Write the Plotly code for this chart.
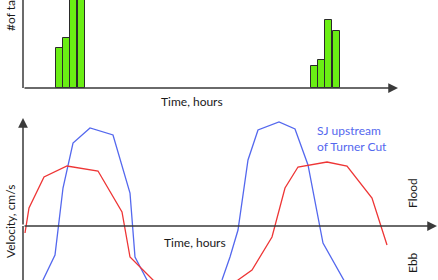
import plotly.graph_objects as go

W, H = 438, 280
PX0, PXH = 23.0, 15.0  # pixel of time origin, pixels per hour

def hx(px):
    return (px - PX0) / PXH

# ---- data (top: tag counts; bottom: velocities) ----
bar_hours_ebb1 = [2.45, 2.92, 3.39, 3.87]
tags_ebb1 = [10.0, 12.5, 28.0, 27.0]
bar_hours_ebb2 = [19.43, 19.9, 20.38, 20.87]
tags_ebb2 = [5.5, 7.0, 17.0, 14.2]
bar_width = 0.46

blue_hours = [hx(p) for p in [35, 43, 55, 63, 73, 90, 113, 130, 135, 147, 165, 205, 222, 230, 238, 248, 258, 279, 295, 308, 323, 343, 355]]
blue_vel = [226 - p for p in [310, 280, 255, 188, 143, 128, 135, 193, 257, 280, 305, 305, 280, 257, 230, 160, 130, 122, 129, 165, 243, 280, 300]]

red_hours = [hx(p) for p in [25, 29, 44, 67, 98, 122, 130, 153, 195, 238, 252, 272, 285, 298, 327, 347, 372, 387]]
red_vel = [226 - p for p in [233, 208, 177, 166, 171, 212, 257, 280, 300, 280, 270, 237, 188, 167, 162, 166, 198, 245]]

xr = [hx(0), hx(W)]
top_range = [0, 22]          # 4 px per tag, baseline at px 88
bot_range = [226 - 280, 226 - 110]

BLUE = "#5468ee"
RED = "#ee3535"
GREEN = "#6aee14"
AX = "#3a3a3a"
FONT = "Lato"

fig = go.Figure()
for xs, ys in [(bar_hours_ebb1, tags_ebb1), (bar_hours_ebb2, tags_ebb2)]:
    fig.add_trace(go.Bar(x=xs, y=ys, width=bar_width, marker=dict(color=GREEN, line=dict(color="#2a2a2a", width=1)),
                         xaxis="x", yaxis="y", showlegend=False))
fig.add_trace(go.Scatter(x=blue_hours, y=blue_vel, mode="lines", line=dict(color=BLUE, width=1.3),
                         xaxis="x2", yaxis="y2", showlegend=False))
fig.add_trace(go.Scatter(x=red_hours, y=red_vel, mode="lines", line=dict(color=RED, width=1.3),
                         xaxis="x2", yaxis="y2", showlegend=False))

hide = dict(showgrid=False, zeroline=False, showticklabels=False, ticks="", showline=False)
fig.update_layout(
    width=W, height=H, margin=dict(l=0, r=0, t=0, b=0),
    paper_bgcolor="white", plot_bgcolor="white",
    xaxis=dict(domain=[0, 1], range=xr, anchor="y", **hide),
    yaxis=dict(domain=[1 - 88 / H, 1], range=top_range, anchor="x", **hide),
    xaxis2=dict(domain=[0, 1], range=xr, anchor="y2", **hide),
    yaxis2=dict(domain=[0, 1 - 110 / H], range=bot_range, anchor="x2", **hide),
    bargap=0,
)

shapes = [
    dict(type="line", xref="x", yref="y", x0=0, x1=0, y0=0, y1=30, line=dict(color=AX, width=1.5)),
    dict(type="line", xref="x2", yref="y2", x0=0, x1=0, y0=bot_range[0], y1=0, line=dict(color=AX, width=1.5)),
]
fig.update_layout(shapes=shapes)

ann = []
# axis arrows
ann.append(dict(xref="x", yref="y", axref="x", ayref="y", x=hx(398), y=0, ax=0, ay=0, showarrow=True,
                arrowhead=2, arrowsize=1.3, arrowwidth=1.5, arrowcolor=AX, text=""))
ann.append(dict(xref="x2", yref="y2", axref="x2", ayref="y2", x=hx(437), y=0, ax=0, ay=0, showarrow=True,
                arrowhead=2, arrowsize=1.3, arrowwidth=1.5, arrowcolor=AX, text=""))
ann.append(dict(xref="x2", yref="y2", axref="x2", ayref="y2", x=0, y=226 - 118, ax=0, ay=0, showarrow=True,
                arrowhead=2, arrowsize=1.3, arrowwidth=1.5, arrowcolor=AX, text=""))

def P(px, py):
    return px / W, 1 - py / H

f = dict(family=FONT, size=12, color="#1a1a1a")
for txt, px, py in [("Time, hours", 192, 101), ("Time, hours", 195, 242)]:
    x, y = P(px, py)
    ann.append(dict(xref="paper", yref="paper", x=x, y=y, text=txt, showarrow=False, font=f,
                    xanchor="center", yanchor="middle"))
x, y = P(10, 33)
ann.append(dict(xref="paper", yref="paper", x=x, y=y, text="#of tags", showarrow=False, font=f,
                textangle=-90, xanchor="center", yanchor="bottom"))
x, y = P(10, 222)
ann.append(dict(xref="paper", yref="paper", x=x, y=y, text="Velocity, cm/s", showarrow=False, font=f,
                textangle=-90, xanchor="center", yanchor="middle"))
x, y = P(412, 193)
ann.append(dict(xref="paper", yref="paper", x=x, y=y, text="Flood", showarrow=False, font=f,
                textangle=-90, xanchor="center", yanchor="middle"))
x, y = P(412, 263)
ann.append(dict(xref="paper", yref="paper", x=x, y=y, text="Ebb", showarrow=False, font=f,
                textangle=-90, xanchor="center", yanchor="middle"))
x, y = P(315, 138)
ann.append(dict(xref="paper", yref="paper", x=x, y=y, text="SJ upstream<br>of Turner Cut", showarrow=False,
                font=dict(family=FONT, size=12, color=BLUE), align="left", xanchor="left", yanchor="middle"))
fig.update_layout(annotations=ann)

fig.write_html("out.html")
